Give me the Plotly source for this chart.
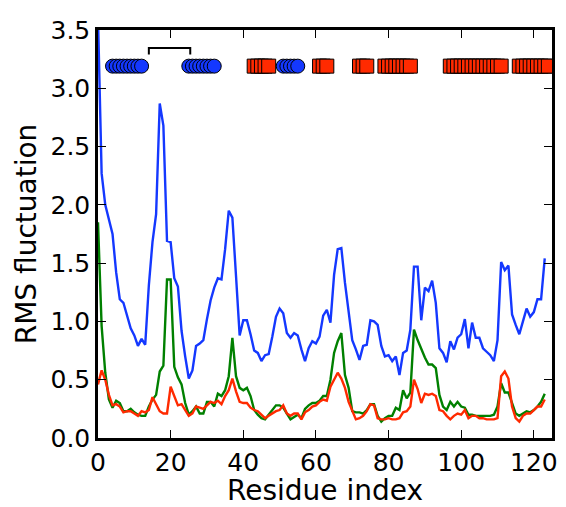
import plotly.graph_objects as go

residues = list(range(124))

rmsf_blue = [3.6, 2.27, 2.0, 1.88, 1.75, 1.42, 1.19, 1.16, 1.05, 0.94,
             0.88, 0.79, 0.85, 0.80, 1.31, 1.68, 1.92, 2.87, 2.68, 1.69,
             1.68, 1.37, 1.30, 0.92, 0.70, 0.51, 0.58, 0.79, 0.81, 0.84,
             1.02, 1.18, 1.29, 1.37, 1.36, 1.62, 1.95, 1.89, 1.39, 0.88,
             1.01, 1.01, 0.89, 0.75, 0.73, 0.66, 0.71, 0.72, 0.87, 1.04,
             1.11, 1.07, 0.90, 0.86, 0.90, 0.88, 0.76, 0.66, 0.77, 0.83,
             0.81, 0.87, 1.05, 1.10, 0.99, 1.40, 1.62, 1.63, 1.33, 1.10,
             0.84, 0.76, 0.67, 0.79, 0.80, 1.01, 1.00, 0.97, 0.79, 0.70,
             0.71, 0.66, 0.70, 0.54, 0.73, 0.75, 0.93, 1.47, 1.47, 1.01,
             1.29, 1.26, 1.35, 1.16, 0.77, 0.73, 0.65, 0.83, 0.76, 0.86,
             0.89, 1.02, 0.77, 0.99, 0.86, 0.86, 0.77, 0.74, 0.71, 0.66,
             0.84, 1.51, 1.44, 1.48, 1.06, 0.97, 0.89, 1.00, 1.11, 1.04,
             1.08, 1.19, 1.19, 1.54]

rmsf_green = [1.85, 0.96, 0.56, 0.33, 0.26, 0.32, 0.30, 0.23, 0.23, 0.25,
              0.22, 0.20, 0.19, 0.19, 0.27, 0.33, 0.37, 0.57, 0.62, 1.36,
              1.36, 0.61, 0.52, 0.46, 0.30, 0.20, 0.23, 0.27, 0.21, 0.21,
              0.31, 0.31, 0.27, 0.38, 0.36, 0.41, 0.53, 0.86, 0.53, 0.43,
              0.41, 0.43, 0.36, 0.24, 0.20, 0.17, 0.16, 0.20, 0.24, 0.28,
              0.28, 0.26, 0.21, 0.16, 0.18, 0.20, 0.17, 0.25, 0.28, 0.30,
              0.30, 0.32, 0.36, 0.36, 0.50, 0.73, 0.83, 0.90, 0.54, 0.43,
              0.23, 0.22, 0.22, 0.21, 0.24, 0.29, 0.29, 0.19, 0.14, 0.17,
              0.19, 0.19, 0.26, 0.24, 0.41, 0.34, 0.39, 0.93, 0.84, 0.76,
              0.69, 0.63, 0.63, 0.60, 0.37, 0.27, 0.24, 0.31, 0.27, 0.31,
              0.27, 0.26, 0.20, 0.20, 0.19, 0.19, 0.19, 0.19, 0.19, 0.20,
              0.27, 0.47, 0.39, 0.39, 0.30, 0.21, 0.19, 0.21, 0.23, 0.22,
              0.24, 0.27, 0.31, 0.38]

rmsf_red = [0.46, 0.58, 0.50, 0.37, 0.28, 0.29, 0.27, 0.22, 0.23, 0.23,
            0.21, 0.19, 0.23, 0.22, 0.24, 0.35, 0.29, 0.23, 0.21, 0.21,
            0.44, 0.36, 0.28, 0.29, 0.24, 0.19, 0.21, 0.27, 0.26, 0.25,
            0.28, 0.31, 0.30, 0.32, 0.29, 0.36, 0.41, 0.51, 0.40, 0.31,
            0.30, 0.30, 0.26, 0.24, 0.23, 0.20, 0.17, 0.19, 0.21, 0.23,
            0.24, 0.28, 0.21, 0.19, 0.21, 0.21, 0.16, 0.22, 0.24, 0.27,
            0.28, 0.31, 0.33, 0.32, 0.44, 0.50, 0.56, 0.51, 0.43, 0.31,
            0.23, 0.16, 0.17, 0.19, 0.23, 0.29, 0.28, 0.17, 0.16, 0.16,
            0.17, 0.16, 0.16, 0.17, 0.22, 0.23, 0.27, 0.50, 0.42, 0.30,
            0.38, 0.37, 0.38, 0.36, 0.24, 0.23, 0.19, 0.16, 0.19, 0.21,
            0.20, 0.24, 0.17, 0.19, 0.19, 0.17, 0.17, 0.16, 0.16, 0.16,
            0.17, 0.53, 0.57, 0.51, 0.27, 0.17, 0.14, 0.19, 0.21, 0.21,
            0.24, 0.27, 0.27, 0.33]

# secondary structure markers (residue indices)
strand_residues = (list(range(4, 13)) + list(range(25, 33)) + list(range(51, 56)))
helix_residues = (list(range(43, 48)) + list(range(61, 64)) + list(range(72, 75))
                  + list(range(79, 87)) + list(range(97, 112)) + list(range(116, 125)))
ss_level = 3.19

# bracket (linked residues)
bracket_x = [14, 14, 25.4, 25.4]
bracket_y = [3.29, 3.345, 3.345, 3.29]

x_ticks = [0, 20, 40, 60, 80, 100, 120]
y_ticks = [0.0, 0.5, 1.0, 1.5, 2.0, 2.5, 3.0, 3.5]

BLUE = "#1438ff"
GREEN = "#008000"
RED = "#ff2a00"

fig = go.Figure()
fig.add_trace(go.Scatter(x=residues, y=rmsf_blue, mode="lines",
                         line=dict(color=BLUE, width=2.4)))
fig.add_trace(go.Scatter(x=residues, y=rmsf_green, mode="lines",
                         line=dict(color=GREEN, width=2.4)))
fig.add_trace(go.Scatter(x=residues, y=rmsf_red, mode="lines",
                         line=dict(color=RED, width=2.4)))
fig.add_trace(go.Scatter(x=helix_residues, y=[ss_level] * len(helix_residues),
                         mode="markers",
                         marker=dict(symbol="square", size=14, color=RED,
                                     line=dict(color="black", width=1))))
fig.add_trace(go.Scatter(x=strand_residues, y=[ss_level] * len(strand_residues),
                         mode="markers",
                         marker=dict(symbol="circle", size=14, color=BLUE,
                                     line=dict(color="black", width=1))))
fig.add_trace(go.Scatter(x=bracket_x, y=bracket_y, mode="lines",
                         line=dict(color="black", width=2)))

axis_common = dict(
    showline=True, linecolor="black", linewidth=2.5, mirror="ticks",
    ticks="inside", ticklen=8, tickwidth=1.2, tickcolor="black",
    showgrid=False, zeroline=False,
    tickfont=dict(family="DejaVu Sans", size=25, color="black"),
)

fig.update_layout(
    width=566, height=507,
    margin=dict(l=98, r=9, t=30, b=67),
    paper_bgcolor="white", plot_bgcolor="white",
    showlegend=False,
    xaxis=dict(range=[0, 125], tickvals=x_ticks,
               ticktext=[str(v) for v in x_ticks],
               title=dict(text="Residue index", standoff=2,
                          font=dict(family="DejaVu Sans", size=28, color="black")),
               **axis_common),
    yaxis=dict(range=[0, 3.5], tickvals=y_ticks,
               ticktext=[f"{v:.1f}" for v in y_ticks],
               title=dict(text="RMS fluctuation", standoff=6,
                          font=dict(family="DejaVu Sans", size=28, color="black")),
               **axis_common),
)

fig.write_html("out.html")
